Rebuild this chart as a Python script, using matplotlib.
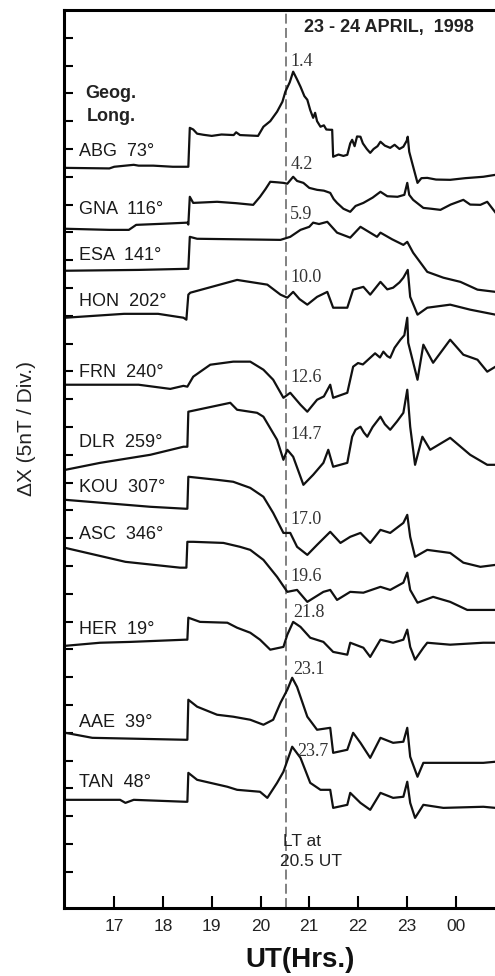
import matplotlib.pyplot as plt

plt.rcParams['font.family'] = ['Liberation Sans', 'DejaVu Sans']

# UT hours and Delta X (in 5 nT divisions, stacked) for each station
abg_t = [16.0, 16.9, 17.0, 17.4, 17.5, 17.8, 18.2, 18.52, 18.55, 18.62, 18.7, 18.83, 19.0, 19.2, 19.45, 19.5,
         19.58, 19.95, 20.06, 20.2, 20.34, 20.45, 20.51, 20.6, 20.67, 20.75, 20.82, 20.9, 20.96, 21.02, 21.08,
         21.12, 21.16, 21.23, 21.3, 21.35, 21.43, 21.47, 21.49, 21.6, 21.7, 21.78, 21.84, 21.88, 21.93, 21.98,
         22.05, 22.1, 22.18, 22.25, 22.32, 22.4, 22.46, 22.55, 22.66, 22.75, 22.85, 22.93, 23.0, 23.02, 23.05,
         23.11, 23.22, 23.3, 23.42, 23.6, 23.89, 24.2, 24.57, 24.82]
abg_x = [25.32, 25.30, 25.36, 25.43, 25.40, 25.40, 25.36, 25.36, 26.76, 26.70, 26.55, 26.51, 26.47, 26.52, 26.50,
         26.60, 26.50, 26.47, 26.80, 27.00, 27.34, 27.70, 28.06, 28.40, 28.78, 28.50, 28.24, 27.90, 27.77, 27.40,
         27.12, 27.30, 27.00, 26.80, 26.85, 26.70, 26.69, 26.69, 25.72, 25.80, 25.75, 25.79, 26.20, 26.33, 26.10,
         26.45, 26.44, 26.20, 26.00, 25.86, 26.00, 26.10, 26.26, 26.12, 26.04, 26.15, 26.00, 26.08, 26.30, 26.44,
         25.90, 25.50, 24.78, 24.95, 24.96, 24.90, 24.89, 24.95, 25.00, 25.07]

gna_t = [16.0, 16.9, 17.3, 17.45, 18.0, 18.5, 18.52, 18.55, 18.62, 19.11, 19.5, 19.85, 19.99, 20.1, 20.20, 20.35,
         20.47, 20.55, 20.67, 20.75, 20.88, 21.0, 21.16, 21.3, 21.43, 21.5, 21.57, 21.7, 21.84, 21.95, 22.11, 22.3,
         22.46, 22.6, 22.81, 22.95, 23.01, 23.05, 23.13, 23.34, 23.5, 23.69, 23.9, 24.16, 24.3, 24.51, 24.65, 24.82]
gna_x = [23.13, 23.09, 23.09, 23.27, 23.31, 23.35, 23.28, 24.28, 24.06, 24.10, 24.05, 23.99, 24.28, 24.55, 24.82,
         24.80, 24.78, 24.75, 25.00, 24.85, 24.78, 24.60, 24.53, 24.50, 24.42, 24.20, 24.06, 23.85, 23.74, 23.95,
         24.06, 24.25, 24.46, 24.30, 24.28, 24.35, 24.78, 24.35, 24.17, 23.88, 23.85, 23.81, 24.00, 24.17, 24.00,
         23.99, 24.10, 23.71]

esa_t = [16.0, 17.5, 18.52, 18.55, 18.7, 20.41, 20.61, 20.82, 21.0, 21.08, 21.2, 21.37, 21.57, 21.84, 22.05,
         22.39, 22.46, 22.7, 22.93, 23.01, 23.13, 23.42, 23.75, 24.10, 24.45, 24.82]
esa_x = [21.62, 21.65, 21.69, 22.84, 22.77, 22.73, 22.84, 23.09, 23.20, 23.35, 23.30, 23.38, 22.99, 22.81, 23.20,
         22.84, 22.99, 22.75, 22.55, 22.66, 22.27, 21.58, 21.37, 21.22, 20.94, 20.86]

hon_t = [16.0, 17.2, 17.9, 18.42, 18.48, 18.52, 18.56, 19.52, 20.14, 20.41, 20.55, 20.67, 20.8, 20.96, 21.16,
         21.37, 21.49, 21.78, 21.90, 22.11, 22.25, 22.46, 22.6, 22.72, 22.85, 22.93, 23.02, 23.07, 23.22, 23.42,
         23.89, 24.30, 24.82]
hon_x = [19.93, 20.07, 20.07, 19.93, 19.86, 20.76, 20.83, 21.29, 21.12, 20.76, 20.65, 20.86, 20.60, 20.40, 20.68,
         20.86, 20.29, 20.29, 20.94, 21.04, 20.76, 21.22, 20.95, 21.01, 21.20, 21.37, 21.65, 20.68, 20.04, 20.29,
         20.40, 20.22, 20.04]

frn_t = [16.0, 17.5, 18.15, 18.42, 18.50, 18.62, 18.97, 19.44, 19.79, 20.06, 20.26, 20.47, 20.61, 20.82, 20.96,
         21.16, 21.3, 21.43, 21.49, 21.78, 21.90, 22.0, 22.1, 22.25, 22.35, 22.45, 22.52, 22.6, 22.66, 22.75, 22.87,
         22.95, 23.01, 23.03, 23.22, 23.34, 23.54, 23.89, 24.16, 24.45, 24.65, 24.82]
frn_x = [17.52, 17.52, 17.37, 17.48, 17.45, 17.81, 18.24, 18.35, 18.35, 18.06, 17.70, 17.05, 17.23, 16.80, 16.55,
         16.98, 17.10, 17.52, 17.05, 17.23, 18.17, 18.30, 18.25, 18.49, 18.65, 18.50, 18.71, 18.55, 18.49, 18.85,
         19.14, 19.30, 19.93, 19.03, 17.70, 18.96, 18.31, 19.14, 18.60, 18.42, 17.99, 18.17]

dlr_t = [16.0, 16.71, 17.74, 18.42, 18.50, 18.52, 19.38, 19.52, 19.93, 20.06, 20.34, 20.47, 20.55, 20.67, 20.88,
         21.08, 21.29, 21.39, 21.49, 21.78, 21.88, 21.95, 22.05, 22.12, 22.19, 22.3, 22.46, 22.55, 22.66, 22.8,
         22.93, 23.01, 23.07, 23.17, 23.32, 23.48, 23.89, 24.30, 24.65, 24.82]
dlr_x = [14.46, 14.71, 15.00, 15.29, 15.29, 16.55, 16.87, 16.62, 16.51, 16.37, 15.54, 14.82, 15.18, 14.93, 13.92,
         14.28, 14.71, 15.18, 14.57, 14.71, 15.65, 15.90, 16.01, 15.80, 15.65, 16.00, 16.37, 16.10, 15.90, 16.20,
         16.51, 17.34, 16.01, 14.64, 15.65, 15.18, 15.61, 15.00, 14.64, 14.64]

kou_t = [16.0, 17.74, 18.46, 18.50, 18.52, 19.11, 19.44, 19.79, 20.06, 20.26, 20.47, 20.61, 20.75, 20.96, 21.16,
         21.43, 21.64, 21.84, 22.05, 22.25, 22.46, 22.66, 22.93, 23.01, 23.07, 23.17, 23.42, 23.89, 24.16, 24.51, 24.82]
kou_x = [13.38, 13.13, 13.06, 13.06, 14.21, 14.10, 14.03, 13.81, 13.49, 12.91, 12.19, 12.19, 11.69, 11.40, 11.76,
         12.23, 11.83, 12.05, 12.19, 11.83, 12.30, 12.19, 12.55, 12.84, 12.05, 11.33, 11.58, 11.47, 11.12, 10.97, 11.04]

asc_t = [16.0, 17.23, 18.35, 18.48, 18.50, 18.62, 19.24, 19.58, 19.79, 20.06, 20.34, 20.55, 20.75, 20.96, 21.29,
         21.43, 21.57, 21.84, 22.11, 22.46, 22.66, 22.93, 23.01, 23.07, 23.22, 23.54, 23.89, 24.24, 24.82]
asc_x = [11.65, 11.15, 10.94, 10.94, 11.87, 11.87, 11.83, 11.69, 11.58, 11.22, 10.61, 10.07, 10.14, 9.71, 10.07,
         10.14, 9.78, 10.07, 10.04, 10.25, 10.14, 10.40, 10.76, 10.14, 9.68, 9.89, 9.71, 9.42, 9.42]

her_t = [16.0, 16.71, 17.33, 18.46, 18.50, 18.52, 18.76, 19.32, 19.52, 19.79, 19.99, 20.20, 20.47, 20.55, 20.67,
         20.82, 21.02, 21.29, 21.49, 21.78, 21.84, 22.11, 22.25, 22.46, 22.72, 22.93, 23.01, 23.07, 23.17, 23.34,
         23.42, 23.89, 24.57, 24.82]
her_x = [8.13, 8.24, 8.27, 8.35, 8.35, 9.14, 8.99, 8.96, 8.78, 8.60, 8.35, 7.99, 8.09, 8.53, 8.99,
         8.81, 8.42, 8.27, 7.91, 7.81, 8.24, 8.06, 7.73, 8.35, 8.24, 8.35, 8.71, 8.09, 7.63, 8.06,
         8.24, 8.17, 8.24, 8.24]

aae_t = [16.0, 16.55, 18.46, 18.50, 18.52, 18.70, 19.11, 19.44, 19.79, 20.06, 20.26, 20.41, 20.55, 20.65, 20.75,
         20.96, 21.16, 21.43, 21.49, 21.78, 21.90, 22.05, 22.25, 22.46, 22.72, 22.93, 23.01, 23.07, 23.22, 23.34,
         23.75, 24.57, 24.82]
aae_x = [5.00, 4.82, 4.75, 4.75, 6.19, 5.94, 5.65, 5.58, 5.47, 5.29, 5.47, 6.08, 6.55, 6.98, 6.65,
         5.58, 5.11, 5.18, 4.28, 4.39, 5.00, 4.64, 4.10, 4.82, 4.64, 4.68, 5.18, 4.14, 3.42, 3.92,
         3.92, 3.92, 3.96]

tan_t = [16.0, 17.12, 17.23, 17.40, 18.46, 18.50, 18.52, 18.70, 19.32, 19.52, 19.99, 20.14, 20.34, 20.47, 20.65,
         20.82, 21.02, 21.23, 21.43, 21.49, 21.78, 21.84, 22.05, 22.25, 22.46, 22.72, 22.93, 23.01, 23.07, 23.17,
         23.34, 23.75, 24.57, 24.82]
tan_x = [2.59, 2.59, 2.48, 2.59, 2.52, 2.52, 3.56, 3.31, 3.06, 2.95, 2.88, 2.66, 3.20, 3.60, 4.50,
         4.10, 3.20, 2.95, 2.95, 2.30, 2.41, 2.84, 2.48, 2.23, 2.84, 2.66, 2.70, 3.24, 2.48, 1.94,
         2.41, 2.30, 2.34, 2.30]

traces = [(abg_t, abg_x), (gna_t, gna_x), (esa_t, esa_x), (hon_t, hon_x), (frn_t, frn_x), (dlr_t, dlr_x),
          (kou_t, kou_x), (asc_t, asc_x), (her_t, her_x), (aae_t, aae_x), (tan_t, tan_x)]

stations = ['ABG', 'GNA', 'ESA', 'HON', 'FRN', 'DLR', 'KOU', 'ASC', 'HER', 'AAE', 'TAN']
longitudes = ['73', '116', '141', '202', '240', '259', '307', '346', '19', '39', '48']
station_y = [25.90, 23.81, 22.16, 20.50, 17.95, 15.43, 13.81, 12.12, 8.71, 5.36, 3.20]

# local time at 20.5 UT for each station, labels near the dashed line
lt_labels = ['1.4', '4.2', '5.9', '10.0', '12.6', '14.7', '17.0', '19.6', '21.8', '23.1', '23.7']
lt_x = [20.61, 20.61, 20.61, 20.61, 20.61, 20.61, 20.61, 20.61, 20.67, 20.67, 20.75]
lt_y = [29.14, 25.43, 23.63, 21.37, 17.77, 15.72, 12.66, 10.61, 9.32, 7.27, 4.32]

hour_ticks = [17, 18, 19, 20, 21, 22, 23, 24]
hour_labels = ['17', '18', '19', '20', '21', '22', '23', '00']

fig = plt.figure(figsize=(4.95, 9.76), dpi=100)
ax = fig.add_axes([0.1293, 0.0697, 0.9535, 0.9201])
ax.set_xlim(15.97, 25.65)
ax.set_ylim(-1.3, 31.0)

for t, x in traces:
    ax.plot(t, x, color='#111111', lw=1.6)

ax.axvline(20.52, color='#777777', lw=1.3, ls=(0, (5.5, 2.4)), zorder=0)

for name, lon, y in zip(stations, longitudes, station_y):
    ax.text(16.27, y, f'{name}  {lon}\u00b0', fontsize=13, color='#1a1a1a', va='center', ha='left')

for lab, x, y in zip(lt_labels, lt_x, lt_y):
    ax.text(x, y, lab, fontsize=13, family=['Liberation Serif'], color='#333333', va='center', ha='left')

ax.text(16.94, 27.99, 'Geog.', fontsize=13, fontweight='bold', color='#222222', ha='center', va='center')
ax.text(16.94, 27.16, 'Long.', fontsize=13, fontweight='bold', color='#222222', ha='center', va='center')
ax.text(20.90, 30.36, '23 - 24 APRIL,  1998', fontsize=13, fontweight='bold', color='#222222',
        ha='left', va='center')
ax.text(20.47, 1.08, 'LT at', fontsize=12.5, color='#222222', ha='left', va='center')
ax.text(20.41, 0.36, '20.5 UT', fontsize=12.5, color='#222222', ha='left', va='center')

ax.set_xticks(hour_ticks)
ax.set_xticklabels(hour_labels)
ax.set_yticks(range(0, 31))
ax.set_yticklabels([])
ax.tick_params(axis='x', direction='in', length=8.5, width=1.5, pad=8, labelsize=12.5, labelcolor='#222222')
ax.tick_params(axis='y', direction='in', length=6.5, width=1.5)
for side in ['left', 'bottom', 'top', 'right']:
    ax.spines[side].set_linewidth(2.2)

fig.text(27 / 495, 1 - 428 / 976, '\u0394X (5nT / Div.)', rotation=90, fontsize=15, color='#222222',
         ha='center', va='center')
fig.text(300 / 495, 1 - 960 / 976, 'UT(Hrs.)', fontsize=20, fontweight='bold', color='#111111',
         ha='center', va='center')

fig.savefig('out.png', dpi=100)
